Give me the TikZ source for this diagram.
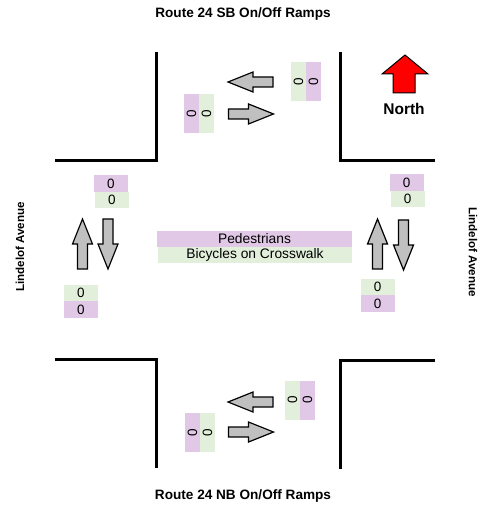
\documentclass[tikz,border=0pt]{standalone}
\usepackage{fontspec}
\setmainfont{Liberation Sans}
\begin{document}
\begin{tikzpicture}[x=1pt,y=-1pt,
  curb/.style={line width=3pt},
  ped/.style={fill=pedc,draw=none,inner sep=0pt},
  bic/.style={fill=bicc,draw=none,inner sep=0pt},
  hbox/.style={minimum width=34pt,minimum height=16.5pt,font=\fontsize{13.5}{15}\selectfont},
  vbox/.style={rotate=90,minimum width=39pt,minimum height=15pt,font=\fontsize{13.5}{15}\selectfont},
  title/.style={font=\bfseries\fontsize{13.6}{16}\selectfont},
  street/.style={font=\bfseries\fontsize{11.6}{14}\selectfont},
  garrow/.style={fill=arrowgray,draw=black,line width=1.2pt,line join=miter},
  blockarrow/.pic={\draw[garrow] (-22.5,-5) -- (-2.5,-5) -- (-2.5,-10) -- (22.5,0) -- (-2.5,10) -- (-2.5,5) -- (-22.5,5) -- cycle;},
  varrow/.pic={\draw[garrow] (-25,-5) -- (0,-5) -- (0,-10) -- (25,0) -- (0,10) -- (0,5) -- (-25,5) -- cycle;}
]
\definecolor{pedc}{HTML}{E1C8E6}
\definecolor{bicc}{HTML}{E2EFDA}
\definecolor{arrowgray}{HTML}{C0C0C0}
\useasboundingbox (0,0) rectangle (482,510);

% titles
\node[title] (tsb) at (243,14) {Route 24 SB On/Off Ramps};
\node[title] (tnb) at (243,496) {Route 24 NB On/Off Ramps};
\node[street,rotate=90] (lw) at (20,247) {Lindelof Avenue};
\node[street,rotate=-90] (le) at (473,252) {Lindelof Avenue};

% curbs
\draw[curb] (156,52) -- (156,161) -- (55,161);
\draw[curb] (340,52) -- (340,161) -- (435,161);
\draw[curb] (55,359) -- (156,359) -- (156,468);
\draw[curb] (435,360) -- (340,360) -- (340,469);

% north arrow
\draw[fill=red,draw=black,line width=1pt] (393,93) -- (393,74) -- (382,74) -- (405,55) -- (428,74) -- (415,74) -- (415,93) -- cycle;
\node[font=\bfseries\fontsize{15.5}{18}\selectfont] (north) at (404,109) {North};

% top approach
\pic at (250.5,82) [rotate=180] {blockarrow};
\pic at (251,114) {blockarrow};
\node[ped,vbox] (tlp) at (191.5,113.5) {0};
\node[bic,vbox] (tlb) at (206.5,113.5) {0};
\node[bic,vbox] (trb) at (298.5,82) {0};
\node[ped,vbox] (trp) at (313.5,82) {0};

% bottom approach
\pic at (250.5,402) [rotate=180] {blockarrow};
\pic at (251,432) {blockarrow};
\node[ped,vbox] (blp) at (192.5,432.5) {0};
\node[bic,vbox] (blb) at (207.5,432.5) {0};
\node[bic,vbox] (brb) at (292.5,400) {0};
\node[ped,vbox] (brp) at (307.5,400) {0};

% left approach
\pic at (82.5,244) [rotate=90] {varrow};
\pic at (108,244) [rotate=-90] {varrow};
\node[ped,hbox] (ltp) at (111,183.5) {0};
\node[bic,hbox] (ltb) at (112,200) {0};
\node[bic,hbox] (lbb) at (81,293) {0};
\node[ped,hbox] (lbp) at (81,309.5) {0};

% right approach
\pic at (377.5,244) [rotate=90] {varrow};
\pic at (403.5,245) [rotate=-90] {varrow};
\node[ped,hbox] (rtp) at (406.5,182.5) {0};
\node[bic,hbox] (rtb) at (407.5,199) {0};
\node[bic,hbox] (rbb) at (377.5,287) {0};
\node[ped,hbox] (rbp) at (377.5,303.5) {0};

% legend
\node[ped,minimum width=195pt,minimum height=16pt,font=\fontsize{13.8}{15}\selectfont] (legp) at (254.5,239) {Pedestrians};
\node[bic,minimum width=194pt,minimum height=16pt,font=\fontsize{13.8}{15}\selectfont] (legb) at (255,255) {Bicycles on Crosswalk};
\end{tikzpicture}
\end{document}
